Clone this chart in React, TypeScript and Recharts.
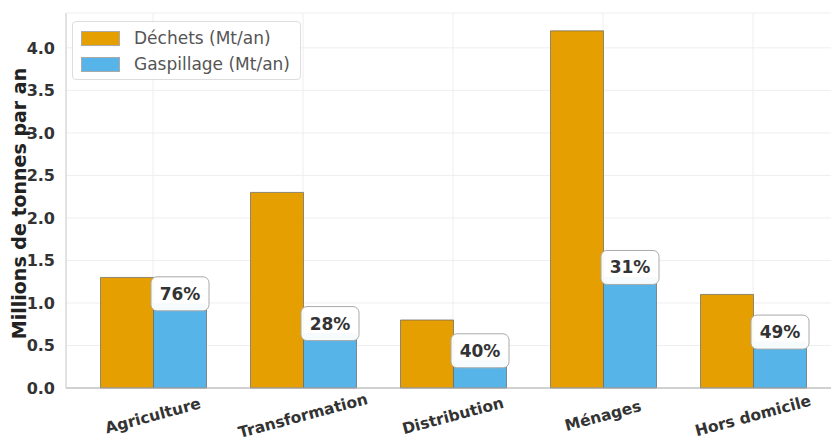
import { BarChart, Bar, XAxis, YAxis, CartesianGrid, Legend, LabelList } from "recharts";

const CATEGORIES = ["Agriculture", "Transformation", "Distribution", "Ménages", "Hors domicile"];
const DECHETS = [1.3, 2.3, 0.8, 4.2, 1.1];
const GASPILLAGE = [0.99, 0.64, 0.32, 1.3, 0.54];
const PCT = [76, 28, 40, 31, 49];
const Y_TICKS = [0, 0.5, 1, 1.5, 2, 2.5, 3, 3.5, 4];

const ORANGE = "#E69F00";
const BLUE = "#56B4E9";
const FONT = "DejaVu Sans";

const data = CATEGORIES.map((name, i) => ({
  name,
  dechets: DECHETS[i],
  gaspillage: GASPILLAGE[i],
  pct: PCT[i],
}));

const LEGEND_ITEMS = [
  { label: "Déchets (Mt/an)", color: ORANGE },
  { label: "Gaspillage (Mt/an)", color: BLUE },
];

function LegendBox() {
  return (
    <div
      style={{
        border: "1px solid #ddd",
        borderRadius: 4,
        background: "rgba(255,255,255,0.85)",
        padding: "3px 10px 2px 8px",
        fontFamily: FONT,
        fontSize: 17,
        color: "#555",
      }}
    >
      {LEGEND_ITEMS.map((it) => (
        <div key={it.label} style={{ display: "flex", alignItems: "center", height: 26 }}>
          <span
            style={{
              display: "inline-block",
              width: 37,
              height: 13,
              background: it.color,
              border: "1px solid #aaa",
              marginRight: 14,
            }}
          />
          {it.label}
        </div>
      ))}
    </div>
  );
}

function XTick(props: any) {
  const { x, y, payload } = props;
  return (
    <g transform={`translate(${x},${y + 20}) rotate(-15)`}>
      <text
        textAnchor="middle"
        dominantBaseline="central"
        fontFamily={FONT}
        fontWeight="bold"
        fontSize={15.5}
        fill="#333"
      >
        {payload.value}
      </text>
    </g>
  );
}

function PctLabel(props: any) {
  const { x, y, width, index } = props;
  const cx = x + width / 2;
  const cy = y - 10;
  return (
    <g>
      <rect
        x={cx - 29}
        y={cy - 17}
        width={58}
        height={34}
        rx={6}
        fill="#fff"
        fillOpacity={0.95}
        stroke="#aaa"
        strokeWidth={1}
      />
      <text
        x={cx}
        y={cy}
        textAnchor="middle"
        dominantBaseline="central"
        fontFamily={FONT}
        fontWeight="bold"
        fontSize={17}
        fill="#333"
      >
        {PCT[index]}%
      </text>
    </g>
  );
}

export default function App() {
  return (
    <div style={{ position: "absolute", left: 0, top: 0, width: 831, height: 441, overflow: "hidden", background: "#fff" }}>
      <BarChart
        width={845}
        height={441}
        data={data}
        margin={{ top: 13, right: 5, bottom: 0, left: 0 }}
        barCategoryGap="15%"
        barGap={0}
      >
        <CartesianGrid stroke="#eee" strokeWidth={1} />
        <XAxis
          dataKey="name"
          height={53}
          tick={<XTick />}
          tickLine={false}
          axisLine={{ stroke: "#aaa" }}
          padding={{ left: 12, right: 12 }}
          interval={0}
        />
        <YAxis
          width={66}
          domain={[0, 4.41]}
          ticks={Y_TICKS}
          tickFormatter={(v: number) => v.toFixed(1)}
          tick={{ fontFamily: FONT, fontWeight: "bold", fontSize: 16, fill: "#333" }}
          tickLine={false}
          tickMargin={5}
          axisLine={{ stroke: "#ccc" }}
          label={{
            value: "Millions de tonnes par an",
            angle: -90,
            position: "insideLeft",
            dx: 14,
            dy: 3,
            style: { fontFamily: FONT, fontWeight: "bold", fontSize: 19, fill: "#222", textAnchor: "middle" },
          }}
        />
        <Legend
          layout="vertical"
          align="center"
          verticalAlign="middle"
          wrapperStyle={{ left: 72, top: 21, width: "auto" }}
          content={<LegendBox />}
        />
        <Bar dataKey="dechets" fill={ORANGE} stroke="#666" strokeWidth={0.7} isAnimationActive={false} />
        <Bar dataKey="gaspillage" fill={BLUE} stroke="#666" strokeWidth={0.7} isAnimationActive={false}>
          <LabelList dataKey="gaspillage" content={<PctLabel />} />
        </Bar>
      </BarChart>
    </div>
  );
}
